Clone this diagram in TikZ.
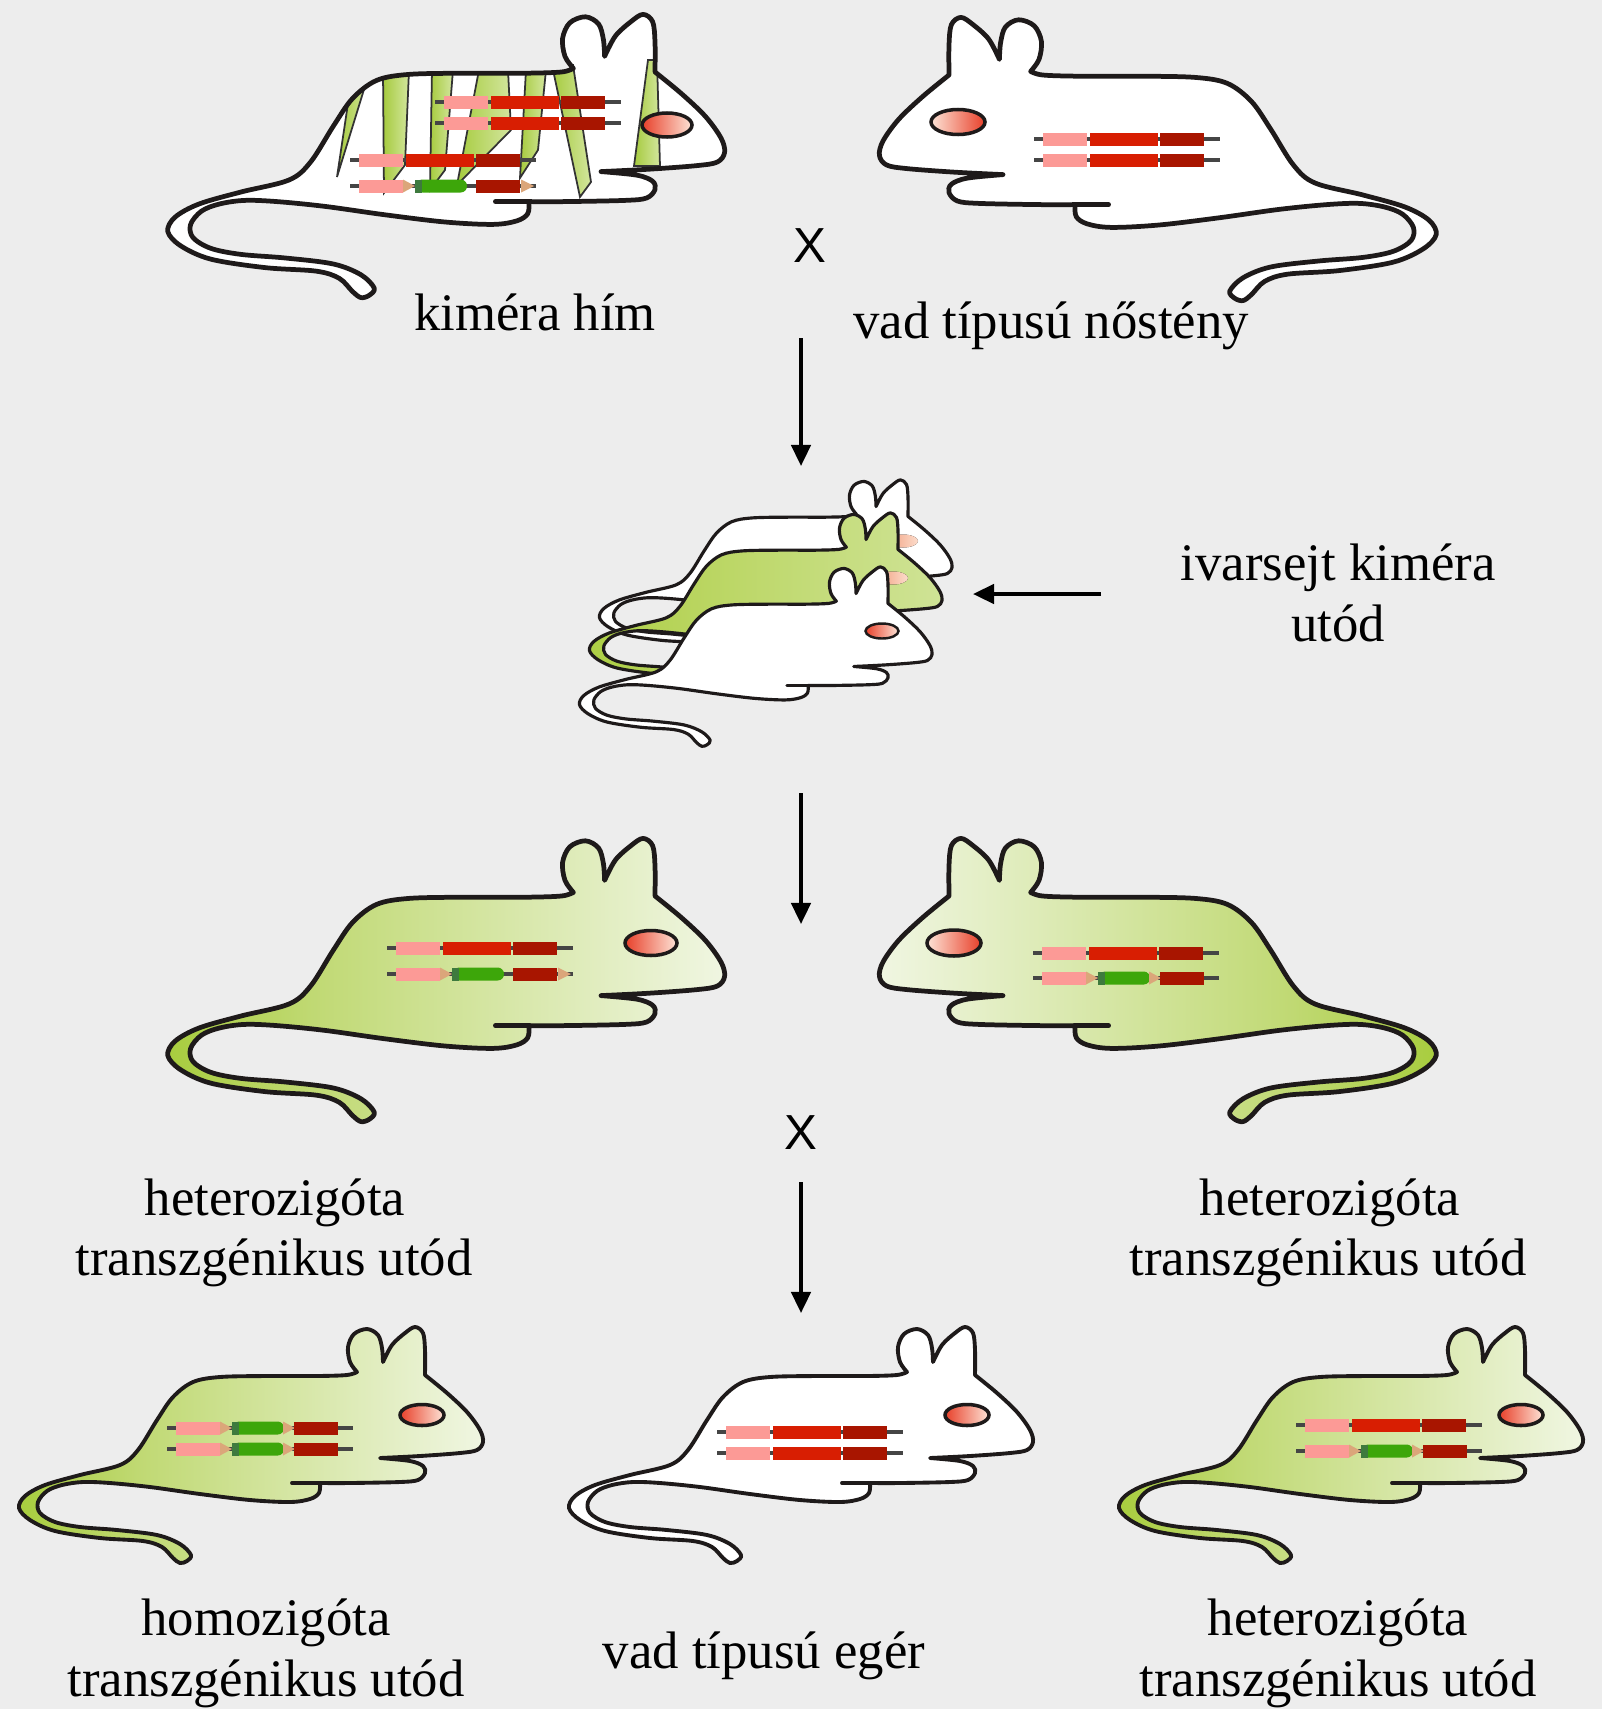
\documentclass[tikz,border=0pt]{standalone}
\usepackage{fontspec}
\setmainfont{Liberation Serif}
\newfontfamily\crossfont{Liberation Sans}
\usetikzlibrary{arrows.meta}

\definecolor{bg}{HTML}{EDEDED}
\definecolor{tailgreen}{HTML}{A8CD3E}
\definecolor{midgreen}{HTML}{C0D973}
\definecolor{headgreen}{HTML}{F0F6E2}
\definecolor{mgreenA}{HTML}{ADCF45}
\definecolor{mgreenB}{HTML}{B9D55F}
\definecolor{mgreenC}{HTML}{CFE396}
\definecolor{pinkgene}{HTML}{FC9A96}
\definecolor{redgene}{HTML}{D81E02}
\definecolor{darkgene}{HTML}{A81500}
\definecolor{tangene}{HTML}{DBA67A}
\definecolor{dkgreen}{HTML}{3E7A3E}
\definecolor{gfp}{HTML}{3DA60A}
\definecolor{eyered}{HTML}{E8402A}
\definecolor{eyelight}{HTML}{FDE3D6}
\definecolor{eyesoftA}{HTML}{F2A283}
\definecolor{eyesoftB}{HTML}{FCDCCB}
\definecolor{outline}{HTML}{1E1A1A}
\definecolor{geneline}{HTML}{454545}
\definecolor{stripeA}{HTML}{A6CB3E}
\definecolor{stripeB}{HTML}{D3E69E}

% body shadings: tail side saturated, head side pale
\pgfdeclarehorizontalshading{bodyR}{100bp}{color(0bp)=(tailgreen); color(25bp)=(tailgreen); color(38bp)=(midgreen); color(75bp)=(headgreen); color(100bp)=(headgreen)}
\pgfdeclarehorizontalshading{bodyL}{100bp}{color(0bp)=(headgreen); color(25bp)=(headgreen); color(62bp)=(midgreen); color(75bp)=(tailgreen); color(100bp)=(tailgreen)}
\pgfdeclarehorizontalshading{bodyM}{100bp}{color(0bp)=(mgreenA); color(25bp)=(mgreenA); color(40bp)=(mgreenB); color(75bp)=(mgreenC); color(100bp)=(mgreenC)}

% mouse silhouette, head to the right, in local units
\def\mouseoutline{plot[smooth,tension=0.55] coordinates {(357,62) (350,52) (348,37) (354,24) (367,19) (378,25) (382,38) (383,52)}
 -- plot[smooth,tension=0.55] coordinates {(383,52) (392,35) (405,23) (415,17) (423,23) (425,40) (425,65)}
 -- plot[smooth,tension=0.55] coordinates {(425,65) (447,83) (467,102) (480,120) (483,132) (477,140) (460,143) (420,146) (380,148)}
 -- plot[smooth,tension=0.55] coordinates {(380,148) (410,151) (423,156) (425,163) (418,170) (400,172) (350,173) (320,173)}
 -- plot[smooth,tension=0.55] coordinates {(320,173) (319,183) (310,189) (290,192) (250,190) (200,184) (150,177) (110,173) (83,172) (62,175) (47,181) (38,192) (40,203) (55,212) (80,217) (117,220) (157,225) (180,234) (191,245) (187,251) (180,253) (173,248) (162,237) (143,231) (100,228) (55,221) (30,210) (19,198) (25,186) (45,175) (80,165) (120,155) (138,140) (157,110) (173,87) (193,72) (220,67) (267,66) (317,66) (347,65) (357,62)}
 -- cycle}

\tikzset{
  mousepen/.style={draw=outline,line join=round,line cap=round},
  gline/.style={draw=geneline,line width=1pt},
  stripe/.style={draw=black!80,line width=0.5pt,left color=stripeA,right color=stripeB},
  eyepen/.style={draw=outline,line width=1pt},
  lbl/.style={font=\fontsize{15}{18}\selectfont,anchor=base,inner sep=0pt},
  cross/.style={font=\crossfont\fontsize{14}{16}\selectfont,inner sep=0pt},
  flow/.style={line width=1.05pt,-{Triangle[length=6pt,width=5.5pt]}}
}

% one mouse: transform, fill options, outline width
\newcommand\mouse[3]{%
  \begin{scope}[#1]
    \path[#2] \mouseoutline;
    \draw[mousepen,line width=#3] \mouseoutline;
    \draw[mousepen,line width=#3] (320,173) -- (292,173);
  \end{scope}}

% wild-type allele: pink start, baseline
\newcommand\wtrow[2]{%
  \draw[gline] ({#1-9},#2) -- ({#1+177},#2);
  \fill[pinkgene] (#1,{#2-6.5}) rectangle ({#1+44},{#2+6.5});
  \fill[redgene] ({#1+47},{#2-6.5}) rectangle ({#1+115},{#2+6.5});
  \fill[darkgene] ({#1+117},{#2-6.5}) rectangle ({#1+161},{#2+6.5});}

% targeted allele, common left part
\newcommand\tgcore[2]{%
  \draw[gline] ({#1-9},#2) -- ({#1+177},#2);
  \fill[pinkgene] (#1,{#2-6.5}) rectangle ({#1+44},{#2+6.5});
  \fill[tangene] ({#1+44},{#2-6.5}) -- ({#1+56},#2) -- ({#1+44},{#2+6.5}) -- cycle;
  \fill[gfp,rounded corners=1.8pt] ({#1+57},{#2-6.5}) rectangle ({#1+108},{#2+6.5});
  \fill[dkgreen] ({#1+56},{#2-6.5}) rectangle ({#1+63},{#2+6.5});}
% loxP site after the last exon
\newcommand\tgrowA[2]{%
  \tgcore{#1}{#2}
  \fill[darkgene] ({#1+117},{#2-6.5}) rectangle ({#1+161},{#2+6.5});
  \fill[tangene] ({#1+162},{#2-6.5}) -- ({#1+175},#2) -- ({#1+162},{#2+6.5}) -- cycle;}
% loxP site before the last exon
\newcommand\tgrowB[2]{%
  \tgcore{#1}{#2}
  \fill[tangene] ({#1+107},{#2-6.5}) -- ({#1+119},#2) -- ({#1+107},{#2+6.5}) -- cycle;
  \fill[darkgene] ({#1+118},{#2-6.5}) rectangle ({#1+162},{#2+6.5});}

% eyes: head to the right (R) or to the left (L)
\newcommand\eyeR[4]{\draw[eyepen,left color=eyered,right color=eyelight] (#1,#2) ellipse [x radius=#3,y radius=#4];}
\newcommand\eyeL[4]{\draw[eyepen,left color=eyelight,right color=eyered] (#1,#2) ellipse [x radius=#3,y radius=#4];}
\newcommand\eyeSoft[4]{\fill[left color=eyesoftA,right color=eyesoftB] (#1,#2) ellipse [x radius=#3,y radius=#4];}

\begin{document}
\begin{tikzpicture}[x=0.01cm,y=-0.01cm]
\useasboundingbox (0,0) rectangle (1602,1709);
\fill[bg] (0,0) rectangle (1602,1709);

% ---------- chimeric male ----------
\begin{scope}[shift={(145,-6)},scale=1.2]
  \path[fill=white] \mouseoutline;
  \begin{scope}
    \clip \mouseoutline;
    \begin{scope}[shift={(-120.8333,5)},scale=0.833333]
      \draw[stripe] (353,70) -- (370,70) -- (337,177) -- cycle;
      \draw[stripe] (383,70) -- (409,70) -- (405,165) -- (384,193) -- cycle;
      \draw[stripe] (432,70) -- (453,70) -- (445,170) -- (430,190) -- cycle;
      \draw[stripe] (479,70) -- (508,70) -- (511,130) -- (457,185) -- cycle;
      \draw[stripe] (526,70) -- (546,70) -- (538,150) -- (520,178) -- cycle;
      \draw[stripe] (552,65) -- (573,65) -- (591,182) -- (580,197) -- cycle;
      \draw[stripe] (648,60) -- (657,60) -- (660,166) -- (634,166) -- cycle;
    \end{scope}
  \end{scope}
  \draw[mousepen,line width=1.35pt] \mouseoutline;
  \draw[mousepen,line width=1.35pt] (320,173) -- (292,173);
\end{scope}
\eyeR{667}{125}{25}{12}
\wtrow{444}{102}
\wtrow{444}{123}
\wtrow{359}{160}
\tgrowA{359}{186}

% ---------- wild-type female ----------
\mouse{shift={(1459,-3)},xscale=-1.2,yscale=1.2}{fill=white}{1.35pt}
\eyeL{958}{122}{27}{12.5}
\wtrow{1043}{139}
\wtrow{1043}{160}

% ---------- germline chimeric offspring ----------
\mouse{shift={(585,467)},scale=0.76}{fill=white}{0.9pt}
\eyeSoft{903}{541}{15}{6.5}
\mouse{shift={(575,500)},scale=0.76}{shade,shading=bodyM}{0.9pt}
\eyeSoft{893}{578}{15}{6.5}
\mouse{shift={(565,554)},scale=0.76}{fill=white}{0.9pt}
\draw[eyepen,line width=0.7pt,left color=eyered,right color=eyelight] (882,631) ellipse [x radius=16.5,y radius=7.5];

% ---------- heterozygous pair ----------
\mouse{shift={(145,818)},scale=1.2}{shade,shading=bodyR}{1.35pt}
\eyeR{651}{943}{26}{12.5}
\wtrow{396}{948}
\tgrowA{396}{974}

\mouse{shift={(1459,818)},xscale=-1.2,yscale=1.2}{shade,shading=bodyL}{1.35pt}
\eyeL{954}{943}{27}{13}
\wtrow{1042}{953}
\tgrowB{1042}{978}

% ---------- third generation ----------
\mouse{shift={(0,1310)},scale=1}{shade,shading=bodyR}{1.1pt}
\eyeR{422}{1415}{22}{10.5}
\tgrowB{176}{1428}
\tgrowB{176}{1449}

\mouse{shift={(550,1310)},scale=1}{fill=white}{1.1pt}
\eyeR{967}{1415}{22}{10.5}
\wtrow{726}{1432}
\wtrow{726}{1453}

\mouse{shift={(1100,1310)},scale=1}{shade,shading=bodyR}{1.1pt}
\eyeR{1521}{1415}{22}{10.5}
\wtrow{1305}{1425}
\tgrowB{1305}{1451}

% ---------- labels ----------
\node[lbl] (male) at (535,330) {kiméra hím};
\node[lbl] (female) at (1051,338) {vad típusú nőstény};
\node[cross] (cross1) at (810,246) {X};
\node[lbl] (germ1) at (1338,580) {ivarsejt kiméra};
\node[lbl] (germ2) at (1338,641) {utód};
\node[cross] (cross2) at (801,1133) {X};
\node[lbl] (hetL1) at (275,1215) {heterozigóta};
\node[lbl] (hetL2) at (274,1275) {transzgénikus utód};
\node[lbl] (hetR1) at (1330,1215) {heterozigóta};
\node[lbl] (hetR2) at (1328,1275) {transzgénikus utód};
\node[lbl] (homo1) at (266,1635) {homozigóta};
\node[lbl] (homo2) at (266,1696) {transzgénikus utód};
\node[lbl] (wild) at (764,1668) {vad típusú egér};
\node[lbl] (het31) at (1338,1635) {heterozigóta};
\node[lbl] (het32) at (1338,1696) {transzgénikus utód};

% ---------- arrows ----------
\coordinate (a1s) at (801,338);  \coordinate (a1e) at (801,466);
\coordinate (a2s) at (801,793);  \coordinate (a2e) at (801,924);
\coordinate (a3s) at (801,1182); \coordinate (a3e) at (801,1313);
\coordinate (hs) at (1101,594);  \coordinate (he) at (973,594);
\draw[flow] (a1s) -- (a1e);
\draw[flow] (a2s) -- (a2e);
\draw[flow] (a3s) -- (a3e);
\draw[flow] (hs) -- (he);
\end{tikzpicture}
\end{document}
